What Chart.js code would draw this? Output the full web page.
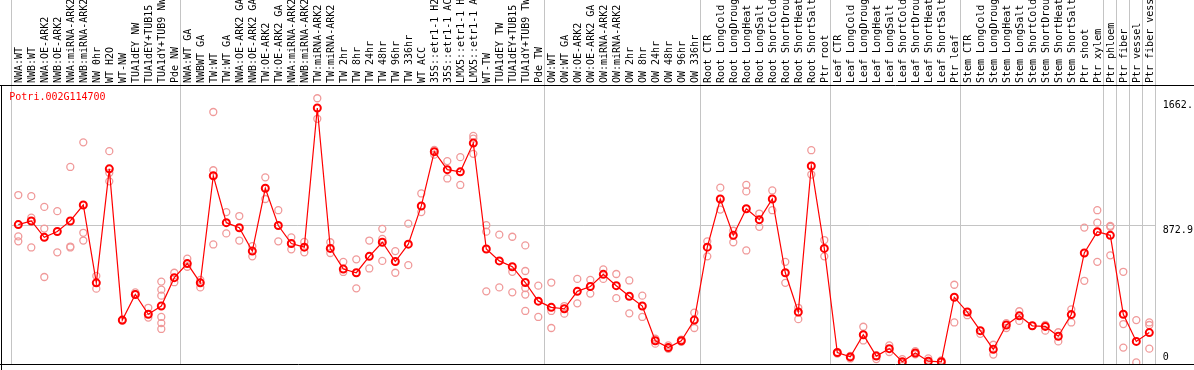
<!DOCTYPE html>
<html>
<head>
<meta charset="utf-8">
<script src="https://cdn.jsdelivr.net/npm/chart.js@4/dist/chart.umd.min.js"></script>
<style>
  html, body { margin: 0; padding: 0; background: #ffffff; }
  #wrap { width: 1194px; height: 370px; }
</style>
</head>
<body>
<div id="wrap"><canvas id="exprChart" width="1194" height="370"></canvas></div>
<script>
const geneName = 'Potri.002G114700';

const categories = [
  'NWA:WT', 'NWB:WT', 'NWA:OE-ARK2', 'NWB:OE-ARK2', 'NWA:miRNA-ARK2', 'NWB:miRNA-ARK2', 'NW 0hr', 'WT H2O', 'WT-NW',
  'TUA1dEY NW', 'TUA1dEY+TUB15 NW', 'TUA1dY+TUB9 NW', 'Pde NW',
  'NWA:WT GA', 'NWBWT GA', 'TW:WT', 'TW:WT GA', 'NWA:OE-ARK2 GA', 'NWB:OE-ARK2 GA', 'TW:OE-ARK2', 'TW:OE-ARK2 GA',
  'NWA:miRNA-ARK2 GA', 'NWB:miRNA-ARK2 GA', 'TW:miRNA-ARK2', 'TW:miRNA-ARK2 GA', 'TW 2hr', 'TW 8hr', 'TW 24hr', 'TW 48hr',
  'TW 96hr', 'TW 336hr', 'WT ACC', '35S::etr1-1 H2O', '35S::etr1-1 ACC', 'LMX5::etr1-1 H2O', 'LMX5::etr1-1 ACC', 'WT-TW',
  'TUA1dEY TW', 'TUA1dEY+TUB15 TW', 'TUA1dY+TUB9 TW', 'Pde TW',
  'OW:WT', 'OW:WT GA', 'OW:OE-ARK2', 'OW:OE-ARK2 GA', 'OW:miRNA-ARK2', 'OW:miRNA-ARK2 GA', 'OW 2hr', 'OW 8hr', 'OW 24hr',
  'OW 48hr', 'OW 96hr', 'OW 336hr',
  'Root CTR', 'Root LongCold', 'Root LongDrought', 'Root LongHeat', 'Root LongSalt', 'Root ShortCold', 'Root ShortDrought',
  'Root ShortHeat', 'Root ShortSalt', 'Ptr root',
  'Leaf CTR', 'Leaf LongCold', 'Leaf LongDrought', 'Leaf LongHeat', 'Leaf LongSalt', 'Leaf ShortCold', 'Leaf ShortDrought',
  'Leaf ShortHeat', 'Leaf ShortSalt', 'Ptr leaf',
  'Stem CTR', 'Stem LongCold', 'Stem LongDrought', 'Stem LongHeat', 'Stem LongSalt', 'Stem ShortCold', 'Stem ShortDrought',
  'Stem ShortHeat', 'Stem ShortSalt', 'Ptr shoot', 'Ptr xylem',
  'Ptr phloem', 'Ptr fiber', 'Ptr vessel', 'Ptr fiber vessel'
];

// first category of each experiment block (separator drawn before it)
const groupStarts = [0, 13, 41, 53, 63, 73, 84, 85, 86, 87];

const meanExpr = [
  877, 900, 796, 833, 900, 1001, 508, 1230, 272, 434, 309, 361, 541,
  630, 508, 1186, 889, 857, 709, 1107, 871, 757, 734, 1615, 726, 595, 572, 676, 765,
  643, 753, 995, 1339, 1225, 1211, 1393, 722, 647, 610, 510, 392,
  353, 344, 454, 485, 562, 490, 423, 361, 141, 98, 141, 272,
  734, 1039, 809, 977, 908, 1039, 572, 323, 1248, 726,
  67, 39, 179, 44, 91, 8, 64, 12, 8, 417,
  323, 205, 87, 241, 299, 236, 232, 170, 307, 697, 832,
  809, 309, 137, 193
];

const replicateExpr = [
  [1064, 802, 771], [1057, 921, 732], [989, 852, 545], [962, 701], [1242, 738, 732], [1398, 825, 776],
  [552, 471], [1342, 1205, 1151], [272, 268], [448, 436], [350, 288], [516, 465, 427, 292, 253, 216], [572, 512],
  [661, 610], [527, 479], [1590, 1221, 751], [956, 821], [931, 776], [740, 676], [1176, 1039], [968, 771],
  [796, 720], [767, 701], [1677, 1547], [765, 697], [641, 577], [657, 473], [776, 599], [850, 786, 647],
  [709, 572], [883, 620], [1074, 956], [1350, 1320], [1279, 1169], [1304, 1128], [1439, 1422, 1325],
  [873, 832, 454], [813, 479], [800, 578, 448], [745, 583, 475, 434, 330], [490, 292],
  [510, 330, 222], [361, 313], [533, 378], [527, 440], [593, 533], [564, 411], [523, 315], [427, 292],
  [154, 123], [112, 90], [149, 135], [319, 222],
  [771, 676], [1111, 972], [838, 765], [1128, 1087, 713], [947, 863], [1093, 968], [641, 508], [350, 278],
  [1348, 1194], [779, 676],
  [67, 60], [29, 45], [230, 143], [25, 50], [112, 70], [25, 0], [75, 55], [29, 0], [17, 2], [496, 257],
  [303], [185], [116, 54], [253, 222], [328, 267], [236], [241, 205], [195, 137], [340, 257], [858, 521],
  [968, 889, 641],
  [869, 863, 682], [578, 247, 98], [272, 4], [257, 241, 91]
];

const valueTicks = [0, 872.9, 1662];
const valueTickLabels = ['0', '872.9', '1662.'];

const monoFont = "'DejaVu Sans Mono', 'Liberation Mono', monospace";
const gridGrey = '#c4c4c4';

const replicatePoints = replicateExpr.flatMap((reps, i) => reps.map(v => ({ x: categories[i], y: v })));

// frame lines, gene name and the right-hand value labels
const frameAndLabels = {
  id: 'frameAndLabels',
  afterDraw(chart) {
    const { ctx, chartArea, scales } = chart;
    ctx.save();
    ctx.strokeStyle = '#000000';
    ctx.lineWidth = 1;
    ctx.beginPath();
    ctx.moveTo(1.5, chartArea.top);
    ctx.lineTo(1.5, chart.height);
    ctx.moveTo(0, chartArea.top + 0.5);
    ctx.lineTo(chart.width, chartArea.top + 0.5);
    ctx.moveTo(0, chartArea.bottom + 0.5);
    ctx.lineTo(chart.width, chartArea.bottom + 0.5);
    ctx.stroke();

    ctx.font = '10px ' + monoFont;
    ctx.textBaseline = 'middle';
    ctx.textAlign = 'left';
    ctx.fillStyle = '#ff0000';
    ctx.fillText(geneName, chartArea.left - 2.5, chartArea.top + 12);

    ctx.fillStyle = '#000000';
    valueTicks.forEach((v, i) => {
      let y = scales.y.getPixelForValue(v) + 5;
      y = Math.min(y, chartArea.bottom - 7);
      ctx.fillText(valueTickLabels[i], chartArea.right + 7, y);
    });
    ctx.restore();
  }
};

const ctx = document.getElementById('exprChart').getContext('2d');

const exprChart = new Chart(ctx, {
  type: 'line',
  data: {
    labels: categories,
    datasets: [{
      label: 'mean',
      data: meanExpr,
      borderColor: '#ff0000',
      borderWidth: 1.2,
      pointRadius: 3.5,
      pointBorderWidth: 2,
      pointBorderColor: '#ff0000',
      pointBackgroundColor: 'rgba(0,0,0,0)',
      tension: 0,
      order: 1
    }, {
      label: 'replicates',
      data: replicatePoints,
      showLine: false,
      pointRadius: 3.5,
      pointBorderWidth: 1.3,
      pointBorderColor: '#f09a9a',
      pointBackgroundColor: 'rgba(0,0,0,0)',
      order: 2
    }]
  },
  options: {
    responsive: false,
    animation: false,
    layout: {
      padding: { left: 11.8, right: 0, top: 0, bottom: 1 }
    },
    plugins: {
      legend: { display: false },
      title: { display: false },
      tooltip: { enabled: false }
    },
    scales: {
      x: {
        type: 'category',
        position: 'top',
        offset: true,
        border: { display: false },
        grid: {
          offset: true,
          drawOnChartArea: true,
          drawTicks: true,
          tickLength: 85,
          color: c => (c.index === undefined || groupStarts.includes(c.index)) ? gridGrey : 'rgba(0,0,0,0)'
        },
        ticks: {
          autoSkip: false,
          minRotation: 90,
          maxRotation: 90,
          padding: -83,
          labelOffset: 13.5,
          color: '#000000',
          font: { family: monoFont, size: 10 }
        },
        afterFit: scale => { scale.height = 85; }
      },
      y: {
        position: 'right',
        min: -6,
        max: 1761,
        border: { display: false },
        afterBuildTicks: scale => { scale.ticks = valueTicks.map(v => ({ value: v })); },
        grid: {
          drawTicks: false,
          color: c => (c.tick && c.tick.value === 872.9) ? gridGrey : 'rgba(0,0,0,0)'
        },
        ticks: { display: false },
        afterFit: scale => { scale.width = 38.2; }
      }
    }
  },
  plugins: [frameAndLabels]
});
</script>
</body>
</html>
